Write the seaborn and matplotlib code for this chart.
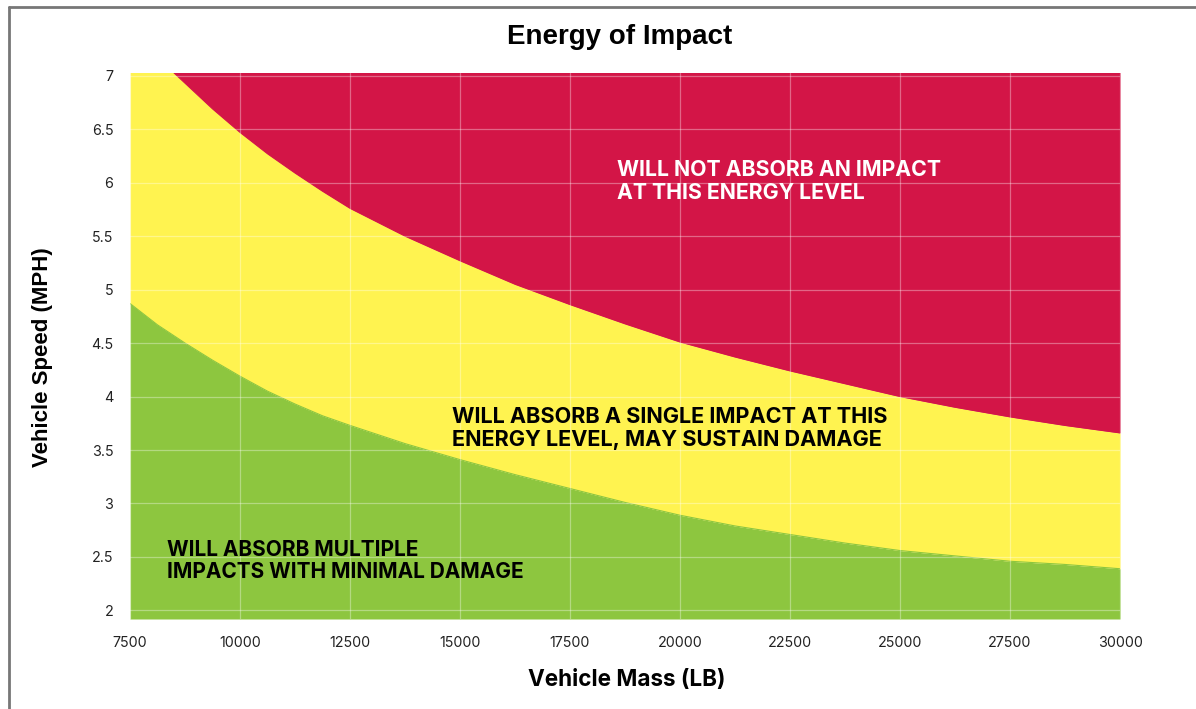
import matplotlib
matplotlib.use("Agg")
import matplotlib.pyplot as plt
from matplotlib.lines import Line2D
import numpy as np
import pandas as pd
import seaborn as sns

# values
mass = [7500, 8125, 8750, 9375, 10000, 10625, 11250, 11875, 12500, 13750,
        15000, 16250, 17500, 18750, 20000, 21250, 22500, 23750, 25000,
        26250, 27500, 28750, 30000]
speed_multi = [4.87, 4.67, 4.50, 4.34, 4.19, 4.05, 3.93, 3.82, 3.73, 3.56,
               3.41, 3.27, 3.14, 3.01, 2.89, 2.79, 2.71, 2.63, 2.56,
               2.51, 2.46, 2.43, 2.39]
speed_single = [7.45, 7.17, 6.93, 6.69, 6.47, 6.27, 6.09, 5.92, 5.76, 5.50,
                5.27, 5.05, 4.86, 4.68, 4.51, 4.37, 4.24, 4.12, 4.00,
                3.90, 3.81, 3.73, 3.66]

x_ticks = [7500, 10000, 12500, 15000, 17500, 20000, 22500, 25000, 27500, 30000]
y_ticks = [2, 2.5, 3, 3.5, 4, 4.5, 5, 5.5, 6, 6.5, 7]

GREEN = "#8DC63F"
YELLOW = "#FFF350"
RED = "#D31547"

df = pd.DataFrame({"mass": mass, "multi": speed_multi, "single": speed_single})

sns.set_theme(style="white")
plt.rcParams["font.family"] = ["Inter", "DejaVu Sans"]

fig = plt.figure(figsize=(11.96, 7.09), dpi=100)
ax = fig.add_axes([130 / 1196, 1 - 619 / 709, 990 / 1196, 546 / 709])

ymin, ymax = 1.92, 7.025
ax.fill_between(df["mass"], ymin, df["multi"], color=GREEN, lw=0, zorder=1)
ax.fill_between(df["mass"], df["multi"], df["single"], color=YELLOW, lw=0, zorder=1)
ax.fill_between(df["mass"], df["single"], 8, color=RED, lw=0, zorder=1)
sns.lineplot(data=df, x="mass", y="multi", color=GREEN, lw=0.8, ax=ax, zorder=1.5)
sns.lineplot(data=df, x="mass", y="single", color=RED, lw=0.8, ax=ax, zorder=1.5)

ax.set_xlim(7500, 30000)
ax.set_ylim(ymin, ymax)
ax.set_xticks(x_ticks)
ax.set_yticks(y_ticks)
ax.set_yticklabels([f"{v:g}" for v in y_ticks])
ax.tick_params(axis="both", length=0, labelsize=10.3, colors="#222222")
ax.tick_params(axis="x", pad=12)
ax.tick_params(axis="y", pad=12)
ax.set_axisbelow(False)
ax.grid(True, color="white", alpha=0.35, lw=0.9)
for s in ax.spines.values():
    s.set_visible(False)
ax.set_xlabel("")
ax.set_ylabel("")

# region labels
ax.text(18570, 6.21, "WILL NOT ABSORB AN IMPACT\nAT THIS ENERGY LEVEL",
        color="white", fontsize=15.3, fontweight="bold", va="top", ha="left",
        linespacing=1.2, zorder=3)
ax.text(14824, 3.905, "WILL ABSORB A SINGLE IMPACT AT THIS\nENERGY LEVEL, MAY SUSTAIN DAMAGE",
        color="black", fontsize=15.6, fontweight="bold", va="top", ha="left",
        linespacing=1.18, zorder=3)
ax.text(8334, 2.655, "WILL ABSORB MULTIPLE\nIMPACTS WITH MINIMAL DAMAGE",
        color="black", fontsize=15.0, fontweight="bold", va="top", ha="left",
        linespacing=1.13, zorder=3)

fig.text(620 / 1196, 1 - 37 / 709, "Energy of Impact", fontsize=20,
         fontweight="bold", ha="center", va="center", family="Liberation Sans",
         color="black")
fig.text(627 / 1196, 1 - 680 / 709, "Vehicle Mass (LB)", fontsize=16.2,
         fontweight="bold", ha="center", va="center", color="black")
fig.text(43 / 1196, 1 - 357 / 709, "Vehicle Speed (MPH)", fontsize=16,
         fontweight="bold", ha="center", va="center", rotation=90,
         family="Liberation Sans", color="black")

# frame drawn around the graphic
fig.add_artist(Line2D([9 / 1196, 9 / 1196], [0, 1 - 7 / 709], color="#777777", lw=2))
fig.add_artist(Line2D([9 / 1196, 1], [1 - 7 / 709, 1 - 7 / 709], color="#777777", lw=2))

fig.savefig("out.png", dpi=100)
